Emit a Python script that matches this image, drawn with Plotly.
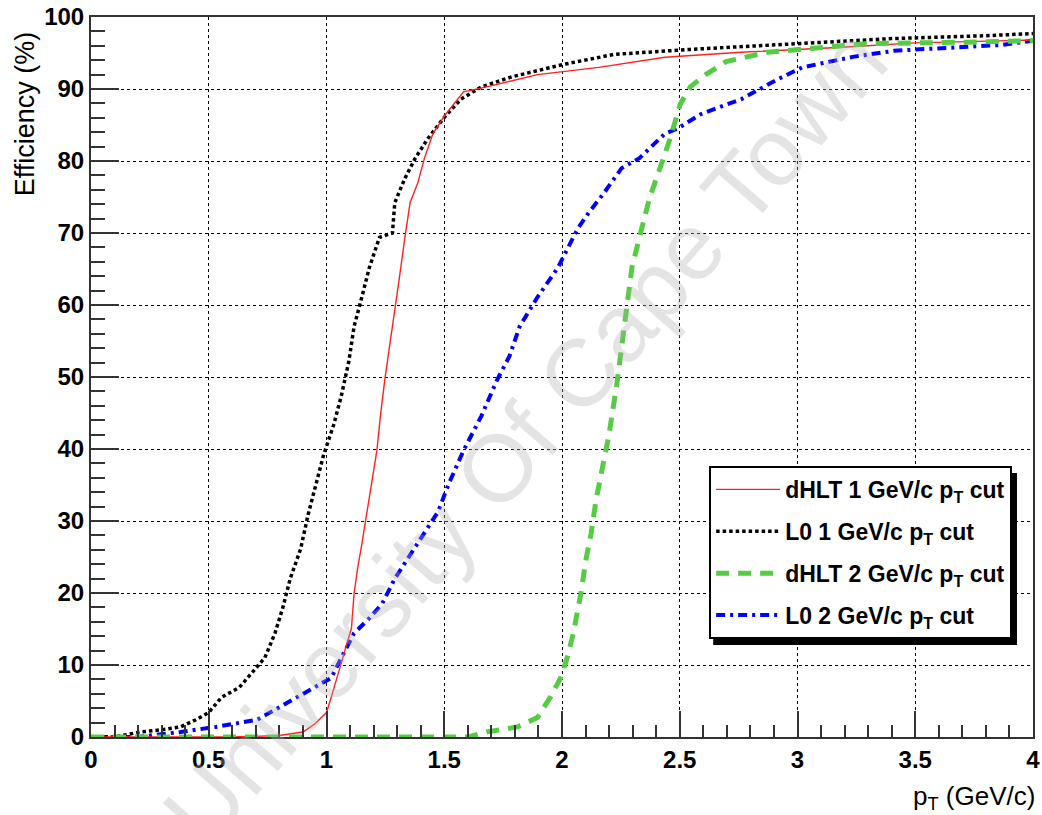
import plotly.graph_objects as go

# ---------------- data ----------------
dhlt1_x = [0, 0.6, 0.8, 0.9, 0.95, 1.0, 1.02, 1.04, 1.063, 1.084, 1.106, 1.117, 1.132, 1.15,
           1.17, 1.193, 1.214, 1.229, 1.247, 1.268, 1.29, 1.307, 1.333, 1.355, 1.387, 1.416,
           1.452, 1.506, 1.582, 1.68, 1.896, 2.156, 2.437, 2.76, 3.19, 3.5, 4.0]
dhlt1_y = [0, 0, 0.2, 0.7, 1.8, 3.4, 5.5, 7.6, 10.3, 12.7, 15.1, 19.9, 23.4, 26.8,
           30.9, 35, 39.8, 44.6, 49.5, 54.3, 59.1, 63.2, 69.4, 74.2, 76.9, 80.4,
           83.8, 86.5, 89.6, 90.3, 92, 93, 94.4, 95.1, 95.8, 96.4, 96.8]

l0_1_x = [0, 0.1, 0.21, 0.3, 0.38, 0.446, 0.5, 0.554, 0.63, 0.684, 0.738, 0.781, 0.814,
          0.846, 0.89, 0.922, 0.955, 0.987, 1.03, 1.063, 1.095, 1.117, 1.15, 1.182, 1.225,
          1.28, 1.29, 1.333, 1.377, 1.43, 1.496, 1.571, 1.658, 1.788, 2.004, 2.22, 2.545,
          2.978, 3.4, 3.8, 4.0]
l0_1_y = [0, 0, 0.7, 1.0, 1.4, 2.4, 3.4, 5.5, 6.9, 8.9, 11, 14.4, 17.9,
          22, 26.1, 30.9, 35, 39.1, 43.3, 47.4, 52.2, 57, 61.1, 65.2, 69.4,
          70, 74.2, 77.6, 80.4, 83.1, 85.9, 88.6, 90.3, 91.7, 93.4, 94.8, 95.5,
          96.2, 97.0, 97.4, 97.7]

dhlt2_x = [0, 1.6, 1.68, 1.81, 1.896, 1.95, 1.994, 2.022, 2.048, 2.08, 2.102, 2.123, 2.145,
           2.173, 2.199, 2.232, 2.253, 2.275, 2.297, 2.329, 2.372, 2.416, 2.459, 2.502,
           2.545, 2.61, 2.697, 2.87, 3.087, 3.29, 3.71, 4.0]
dhlt2_y = [0, 0, 0.7, 1.4, 2.7, 5.5, 8.2, 11, 14.4, 19.9, 24.7, 28.2, 33,
           37.8, 41.9, 48.8, 54.3, 59.8, 65.2, 69.4, 74.9, 79, 83.1, 87.9,
           90.3, 92, 93.8, 95.1, 95.8, 96.3, 96.5, 96.7]

l0_2_x = [0, 0.2, 0.38, 0.53, 0.706, 0.835, 0.944, 1.02, 1.063, 1.117, 1.182, 1.236, 1.29,
          1.344, 1.41, 1.474, 1.517, 1.582, 1.658, 1.723, 1.777, 1.82, 1.896, 1.983, 2.026,
          2.069, 2.113, 2.177, 2.253, 2.329, 2.437, 2.491, 2.589, 2.762, 2.913, 3.02, 3.24,
          3.41, 3.57, 3.71, 3.86, 4.0]
l0_2_y = [0, 0, 0.7, 1.4, 2.4, 4.8, 6.9, 8.2, 11, 14.4, 16.5, 18.5, 22,
          24.7, 28.2, 31.3, 35, 39.8, 44.6, 49.5, 52.9, 57, 61.1, 65.2, 68,
          70.7, 72.8, 75.5, 79, 80.4, 83.8, 84.5, 86.5, 88.6, 91.3, 93, 94.5,
          95.3, 95.6, 95.9, 96.1, 96.7]

names = ["dHLT 1 GeV/c p<sub>T</sub> cut", "L0 1 GeV/c p<sub>T</sub> cut",
         "dHLT 2 GeV/c p<sub>T</sub> cut", "L0 2 GeV/c p<sub>T</sub> cut"]
x_ticks = [0, 0.5, 1, 1.5, 2, 2.5, 3, 3.5, 4]
x_tick_text = ["0", "0.5", "1", "1.5", "2", "2.5", "3", "3.5", "4"]
y_ticks = [0, 10, 20, 30, 40, 50, 60, 70, 80, 90, 100]

FONT = "Liberation Sans, Arial, sans-serif"

fig = go.Figure()
# drawing order: L0 2, L0 1, dHLT 1, dHLT 2 ; legend order set by legendrank
fig.add_trace(go.Scatter(x=l0_2_x, y=l0_2_y, name=names[3], mode="lines", legendrank=4,
                         legendgroup="d", line=dict(color="#0000ff", width=4,
                                                    dash="9px,5px,3px,5px")))
fig.add_trace(go.Scatter(x=l0_1_x, y=l0_1_y, name=names[1], mode="lines", legendrank=2,
                         legendgroup="b", line=dict(color="#000000", width=3.5,
                                                    dash="3.5px,3px")))
fig.add_trace(go.Scatter(x=dhlt1_x, y=dhlt1_y, name=names[0], mode="lines", legendrank=1,
                         legendgroup="a", line=dict(color="#ff2020", width=1.4)))
fig.add_trace(go.Scatter(x=dhlt2_x, y=dhlt2_y, name=names[2], mode="lines", legendrank=3,
                         legendgroup="c", line=dict(color="#55cc44", width=5,
                                                    dash="13px,9px")))

axis_common = dict(
    showline=True, linecolor="#333333", linewidth=2, mirror=True,
    showgrid=True, gridcolor="#000000", gridwidth=1, griddash="dot",
    zeroline=False, ticks="inside", tickcolor="#333333", tickwidth=1.5,
    tickfont=dict(family=FONT, size=24, color="black", weight="bold"),
    automargin=False,
)

fig.update_xaxes(range=[0, 4], tickvals=x_ticks, ticktext=x_tick_text, ticklen=26,
                 minor=dict(ticks="inside", ticklen=12, dtick=0.1, tickcolor="#333333",
                            tickwidth=1.5, showgrid=False),
                 **axis_common)
fig.update_yaxes(range=[0, 100], tickvals=y_ticks, ticklen=28,
                 minor=dict(ticks="inside", ticklen=14, dtick=2, tickcolor="#333333",
                            tickwidth=1.5, showgrid=False),
                 **axis_common)

fig.update_layout(
    width=1042, height=815,
    margin=dict(l=90.5, r=9, t=17, b=78),
    paper_bgcolor="white", plot_bgcolor="white",
    font=dict(family=FONT, color="black"),
    showlegend=True,
    legend=dict(x=0.6562, y=0.3765, xanchor="left", yanchor="top",
                bgcolor="white", bordercolor="black", borderwidth=2,
                font=dict(family=FONT, size=23, color="black", weight="bold"),
                tracegroupgap=9, itemwidth=64),
    shapes=[
        # legend drop shadow
        dict(type="rect", xref="paper", yref="paper", layer="above",
             x0=0.6605, x1=0.983, y0=0.1278, y1=0.3667,
             fillcolor="black", line=dict(width=0)),
    ],
    annotations=[
        dict(text="University Of Cape Town", xref="paper", yref="paper",
             x=0.461, y=0.418, showarrow=False, textangle=-49,
             font=dict(family=FONT, size=95, color="rgba(175,175,175,0.34)")),
        dict(text="p<sub>T</sub> (GeV/c)", xref="paper", yref="paper",
             x=1.004, y=-0.058, xanchor="right", yanchor="top", showarrow=False,
             font=dict(family=FONT, size=26, color="black")),
        dict(text="Efficiency (%)", xref="paper", yref="paper",
             x=-0.07, y=0.865, xanchor="center", yanchor="middle", showarrow=False,
             textangle=-90, font=dict(family=FONT, size=27, color="black")),
    ],
)

# remove the browser's default 8 px body margin so the figure fills the window exactly
fig.write_html("out.html", config={"displayModeBar": False},
               post_script="document.body.style.margin='0px';")
